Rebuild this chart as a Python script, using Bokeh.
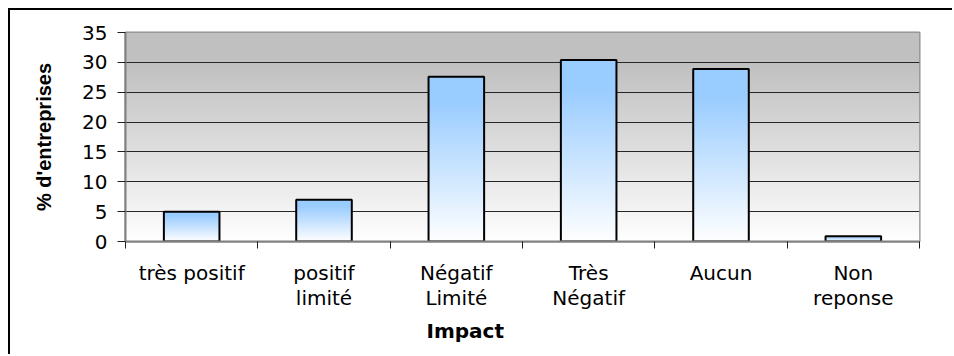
import numpy as np
from bokeh.plotting import figure
from bokeh.models import Range1d, FixedTicker, ColumnDataSource, Title
from bokeh.embed import file_html
from bokeh.resources import INLINE

# Survey results: share of companies by perceived impact
categories = ["très positif", "positif\nlimité", "Négatif\nLimité",
              "Très\nNégatif", "Aucun", "Non\nreponse"]
values = [5.0, 7.0, 27.6, 30.4, 28.9, 0.9]
y_ticks = [0, 5, 10, 15, 20, 25, 30, 35]

FONT = "DejaVu Sans"
BAR_WIDTH = 0.42

n = len(categories)
centers = np.arange(n) + 0.5

# The chart box has a black frame on its left and top edges
p = figure(width=944, height=346, output_backend="svg", toolbar_location=None,
           x_range=Range1d(0, n), y_range=Range1d(0, 35),
           min_border_left=115, min_border_right=35,
           min_border_top=22, min_border_bottom=115,
           styles={"border-left": "2px solid black",
                   "border-top": "2px solid black",
                   "margin-left": "8px", "margin-top": "8px"})
p.background_fill_color = "white"
p.border_fill_color = "white"
p.outline_line_color = "#8c8c8c"
p.outline_line_width = 2

# Plot-area background: grey at the top fading to white at zero
levels = np.linspace(0, 35, 350)
shade = np.where(levels >= 30, 0xC0, 0xFF - (0xFF - 0xC0) * levels / 30.0)
shade = shade.astype(np.uint32)
bg = (0xFF << 24) | (shade << 16) | (shade << 8) | shade
p.image_rgba(image=[bg.reshape(-1, 1)], x=0, y=0, dw=n, dh=35, level="image")

# Bars: light blue at the top, fading to white at the base
def bar_gradient(rows=200):
    t = np.linspace(0, 1, rows)
    t = np.clip(t / 0.85, 0, 1)
    top = np.array([0x99, 0xCC, 0xFF], dtype=float)
    rgb = 255 * (1 - t[:, None]) + top[None, :] * t[:, None]
    rgb = rgb.astype(np.uint32)
    img = (0xFF << 24) | (rgb[:, 2] << 16) | (rgb[:, 1] << 8) | rgb[:, 0]
    return img.reshape(-1, 1)

bars = ColumnDataSource(dict(
    image=[bar_gradient() for _ in values],
    x=list(centers - BAR_WIDTH / 2),
    y=[0] * n,
    dw=[BAR_WIDTH] * n,
    dh=values,
))
p.image_rgba(image="image", x="x", y="y", dw="dw", dh="dh", source=bars)
p.vbar(x=centers, top=values, width=BAR_WIDTH, bottom=0,
       fill_alpha=0, line_color="black", line_width=2)

# Horizontal grid only
p.xgrid.visible = False
p.ygrid.ticker = FixedTicker(ticks=y_ticks)
p.ygrid.grid_line_color = "#262626"
p.ygrid.grid_line_width = 1

# Y axis
p.yaxis.ticker = FixedTicker(ticks=y_ticks)
p.yaxis.axis_line_color = "#808080"
p.yaxis.axis_line_width = 2
p.yaxis.major_tick_line_color = "#202020"
p.yaxis.major_tick_in = 0
p.yaxis.major_tick_out = 8
p.yaxis.minor_tick_line_color = None
p.yaxis.major_label_text_font = FONT
p.yaxis.major_label_text_font_size = "20px"
p.yaxis.major_label_text_color = "black"
p.yaxis.major_label_standoff = 10
p.yaxis.axis_label = "% d'entreprises"
p.yaxis.axis_label_text_font = "Liberation Sans"
p.yaxis.axis_label_text_font_style = "bold"
p.yaxis.axis_label_text_font_size = "20px"
p.yaxis.axis_label_text_color = "black"
p.yaxis.axis_label_standoff = 24

# X axis: ticks between categories, labels at the centres
p.xaxis.ticker = FixedTicker(ticks=list(centers), minor_ticks=list(range(n + 1)))
p.xaxis.major_label_overrides = {float(c): lab for c, lab in zip(centers, categories)}
p.xaxis.axis_line_color = "#808080"
p.xaxis.axis_line_width = 2
p.xaxis.major_tick_line_color = None
p.xaxis.major_tick_in = 0
p.xaxis.major_tick_out = 0
p.xaxis.minor_tick_line_color = "#202020"
p.xaxis.minor_tick_in = 0
p.xaxis.minor_tick_out = 7
p.xaxis.major_label_text_font = FONT
p.xaxis.major_label_text_font_size = "20px"
p.xaxis.major_label_text_color = "black"
p.xaxis.major_label_text_line_height = 1.08
p.xaxis.major_label_standoff = 12

# Axis title below the category labels, set left of the frame centre
p.add_layout(Title(text="Impact", align="left", offset=301,
                   text_font=FONT, text_font_style="bold",
                   text_font_size="20px", text_color="black",
                   standoff=6), "below")

open("out.html", "w").write(file_html(p, INLINE))
